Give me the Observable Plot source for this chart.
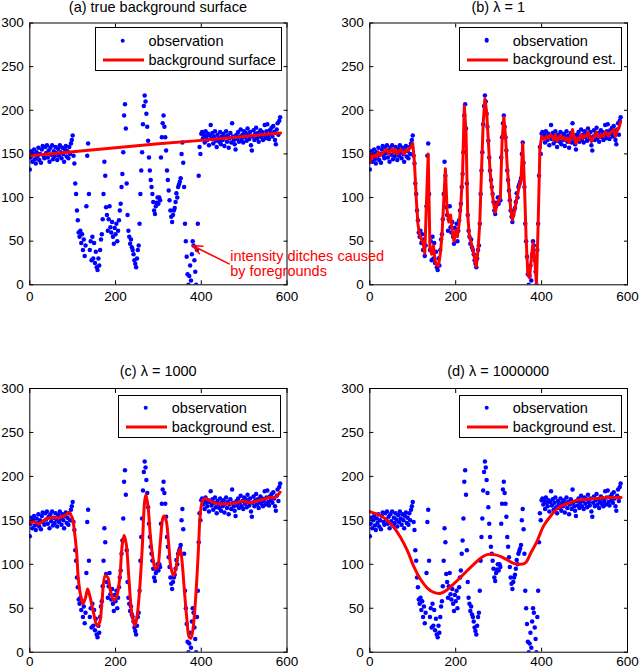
<!DOCTYPE html>
<html>
<head>
<meta charset="utf-8">
<script src="https://cdn.jsdelivr.net/npm/d3@7"></script>
<script src="https://cdn.jsdelivr.net/npm/@observablehq/plot@0.6"></script>
<style>
html, body { margin: 0; padding: 0; background: #fff; }
#root { position: relative; width: 640px; height: 668px; overflow: hidden; font-family: "Liberation Sans", Arial, Helvetica, sans-serif; color: #000; }
.panel { position: absolute; }
.panel svg { overflow: visible; }
.title { position: absolute; font-size: 14.5px; line-height: 14.5px; white-space: nowrap; transform: translateX(-50%); }
.legend { position: absolute; background: #fff; border: 1px solid #000; box-sizing: border-box; font-size: 14.5px; line-height: 14.5px; z-index: 5; }
.legend .ldot { position: absolute; width: 4.6px; height: 4.6px; border-radius: 50%; background: #0000ff; transform: translate(-50%, -50%); }
.legend .lline { position: absolute; height: 3px; background: #ff0000; transform: translateY(-50%); }
.legend .ltext { position: absolute; white-space: nowrap; }
</style>
</head>
<body>
<div id="root"></div>
<script>
// ---------- data ----------
const xTicks = [0, 200, 400, 600];
const yTicks = [0, 50, 100, 150, 200, 250, 300];

const panelTitles = ["(a) true background surface", "(b) \u03bb = 1", "(c) \u03bb = 1000", "(d) \u03bb = 1000000"];
const legendLabels = ["observation", "background surface", "background est."];

// observations, one value every 2 positions starting at 0
const obsStart = 0, obsStep = 2;
const obsY = [
  132,146,153,141,150,155,144,139,152,147,
  157,143,150,140,155,159,148,145,158,151,
  160,146,154,141,157,149,160,144,153,147,
  158,151,143,156,148,160,152,145,157,150,
  141,155,159,147,153,145,158,150,162,166,
  171,
  148,139,116,104,85,74,60,55,62,48,
  58,40,52,33,45,90,148,162,104,40,
  50,28,55,30,48,25,38,20,17,30,
  22,40,52,58,75,104,141,125,89,80,
  62,75,90,66,60,72,55,47,65,58,
  70,50,62,74,85,93,112,127,152,194,
  207,179,116,80,62,55,47,52,43,40,
  35,28,24,20,30,40,45,70,104,131,
  152,184,205,217,210,196,181,165,146,131,
  120,112,104,95,85,81,90,94,100,93,
  100,97,146,169,185,194,181,169,154,131,
  120,108,97,85,78,72,80,85,88,95,
  105,100,112,115,118,122,150,163,140,112,
  70,50,32,12,0,10,22,5,35,50,
  45,28,15,0,40,70,125,158,150,173,
  175,168,172,163,176,170,166,173,160,171,
  183,167,174,162,170,176,165,158,172,168,
  164,175,161,170,166,173,159,169,176,164,
  171,157,168,174,163,185,170,166,161,155,
  172,167,175,164,170,178,166,172,163,176,
  169,174,165,179,171,167,175,160,154,170,
  177,166,173,180,168,174,164,171,177,169,
  175,166,172,183,168,176,184,171,167,177,
  173,180,170,182,175,166,161,178,185,172,
  188,192
];

// (a) true background surface
const bgX = [0, 100, 200, 300, 400, 500, 585];
const bgY = [148, 152.5, 157, 161.5, 165.5, 170, 174];

// (b) lambda = 1 estimate, one value every 4 positions
const estBStart = 0, estBStep = 4;
const estBY = [
  140,150,146,148,147,152,148,150,152,154,
  155,150,153,156,151,155,150,153,155,152,
  150,155,153,156,158,162,
  140,100,70,57,52,48,36,95,150,42,
  35,45,28,22,22,35,56,95,133,85,
  72,80,62,50,62,
  55,70,92,128,205,175,80,55,48,40,
  30,21,40,70,130,185,213,198,165,130,
  110,94,83,92,96,
  100,165,192,170,135,110,88,74,82,93,
  103,113,120,162,115,52,12,8,30,48,
  28,2,70,155,170,
  168,167,170,168,172,170,166,172,165,168,
  171,167,169,166,168,163,170,178,168,162,
  168,166,172,168,171,170,175,170,164,168,
  171,175,170,169,172,170,175,173,171,174,
  176,178,170,177,180,187
];

// (c) lambda = 1000 estimate
const estCX = [0,9,21,33,48,68,83,91,99,104,109,113,118,124,130,135,141,149,157,163,168,176,182,188,196,203,210,215,220,225,231,238,245,250,256,262,268,271,276,281,287,293,298,304,310,313,318,324,329,335,342,347,351,355,360,366,372,376,382,388,394,397,403,409,421,436,452,467,483,498,514,529,545,560,572,584];
const estCY = [147,148.5,146,150,153,153,156,159,153,138,115,85,66,55,62,72,62,44,30,34,55,87,85,70,59,64,85,119,133,123,85,44,30,40,70,116,172,179,165,134,108,95,97,123,152,155,150,123,97,87,98,114,117,104,74,40,17,16,32,70,123,153,172,175,172,169,169,169,170,172,170,172,174,176,176,182];

// (d) lambda = 1000000 estimate
const estDX = [0,17,36,56,71,87,102,118,134,149,165,180,196,211,227,242,258,273,289,304,320,335,351,363,374,390,405,421,436,452,467,483,506,530,553,568,585];
const estDY = [160,157,152,142,131,116,98,83,73,68,67,71,78,85,93,100,107,111,111,109,105,101,100,102,112,127,144,155,163,168,170,173,174,175,176,176,176];

// annotation in panel (a)
const annotation = [{x1: 465, y1: 24, x2: 379, y2: 45, tx: 467.5, ty: 24, label: "intensity ditches caused\nby foregrounds"}];

// ---------- build ----------
const obs = obsY.map((y, i) => ({x: obsStart + i * obsStep, y}));
const zip = (X, Y) => X.map((x, i) => ({x, y: Y[i]}));
const bgLine = zip(bgX, bgY);
const estB = estBY.map((y, i) => ({x: estBStart + i * estBStep, y}));
const estC = zip(estCX, estCY);
const estD = zip(estDX, estDY);

const root = document.getElementById("root");
const FONT = '"Liberation Sans", Arial, Helvetica, sans-serif';

function makePanel({left, top, height, mt, mb, mr, line, curve, xPad, extra = []}) {
  const svg = Plot.plot({
    width: 300,
    height,
    marginLeft: 29.3,
    marginRight: mr,
    marginTop: mt,
    marginBottom: mb,
    x: {domain: [0, 600], axis: null, label: null},
    y: {domain: [0, 300], axis: null, label: null},
    style: {fontFamily: FONT, fontSize: "13.5px", overflow: "visible", background: "none", color: "#000"},
    marks: [
      Plot.dot(obs, {x: "x", y: "y", r: 2.25, fill: "#0000ff", clip: true}),
      Plot.line(line, {x: "x", y: "y", stroke: "#ff0000", strokeWidth: 3, curve, clip: true}),
      ...extra,
      Plot.frame({stroke: "#000", strokeWidth: 1}),
      Plot.axisX(xTicks, {anchor: "bottom", tickSize: -4, tickPadding: xPad, label: null, fontSize: 13.5}),
      Plot.axisX(xTicks, {anchor: "top", tickSize: -4, tickFormat: () => "", label: null}),
      Plot.axisY(yTicks, {anchor: "left", tickSize: -4, tickPadding: 10, label: null, fontSize: 13.5}),
      Plot.axisY(yTicks, {anchor: "right", tickSize: -4, tickFormat: () => "", label: null})
    ]
  });
  const wrap = document.createElement("div");
  wrap.className = "panel";
  wrap.style.left = left + "px";
  wrap.style.top = top + "px";
  wrap.appendChild(svg);
  root.appendChild(wrap);
  return wrap;
}

function makeTitle(text, cx, top) {
  const d = document.createElement("div");
  d.className = "title";
  d.textContent = text;
  d.style.left = cx + "px";
  d.style.top = top + "px";
  root.appendChild(d);
}

function makeLegend(box, label2, shift) {
  const d = document.createElement("div");
  d.className = "legend";
  Object.assign(d.style, {left: box.left + "px", top: box.top + "px", width: box.width + "px", height: box.height + "px"});
  d.innerHTML =
    `<span class="ldot" style="left:26.5px;top:${12.5 + shift}px"></span>` +
    `<span class="lline" style="left:6.5px;width:41px;top:${32 + shift}px"></span>` +
    `<span class="ltext" style="left:52.5px;top:${6.3 + shift}px">${legendLabels[0]}</span>` +
    `<span class="ltext" style="left:52.5px;top:${24.5 + shift}px">${label2}</span>`;
  root.appendChild(d);
}

// (b)
makePanel({left: 340, top: 0, height: 305, mt: 22.5, mb: 20.7, mr: 13, line: estB, curve: "linear", xPad: 10.5});
// (c)
makePanel({left: 0, top: 366, height: 300, mt: 22, mb: 14.3, mr: 13.5, line: estC, curve: "catmull-rom", xPad: 8.3});
// (d)
makePanel({left: 340, top: 366, height: 300, mt: 22, mb: 14.3, mr: 13, line: estD, curve: "catmull-rom", xPad: 8.3});
// (a) on top so that the annotation text overlays panel (b)
const pa = makePanel({left: 0, top: 0, height: 305, mt: 22.5, mb: 20.7, mr: 13.5, line: bgLine, curve: "linear", xPad: 10.5, extra: [
  Plot.arrow(annotation, {x1: "x1", y1: "y1", x2: "x2", y2: "y2", stroke: "#ff0000", strokeWidth: 1.6, headLength: 10, headAngle: 45}),
  Plot.text(annotation, {x: "tx", y: "ty", text: "label", fill: "#ff0000", fontSize: 14.5, textAnchor: "start", lineAnchor: "middle", lineHeight: 1.03})
]});
pa.style.zIndex = 3;

makeTitle(panelTitles[0], 157.9, 0);
makeTitle(panelTitles[1], 498.2, 0);
makeTitle(panelTitles[2], 158.2, 363.5);
makeTitle(panelTitles[3], 498.2, 363.5);

makeLegend({left: 95, top: 27, width: 187, height: 44}, legendLabels[1], 0);
makeLegend({left: 459.3, top: 26.7, width: 162.4, height: 44}, legendLabels[2], 0);
makeLegend({left: 118.3, top: 395, width: 162.7, height: 42.5}, legendLabels[2], -1);
makeLegend({left: 459.3, top: 395, width: 162.4, height: 42.5}, legendLabels[2], -1);
</script>
</body>
</html>
